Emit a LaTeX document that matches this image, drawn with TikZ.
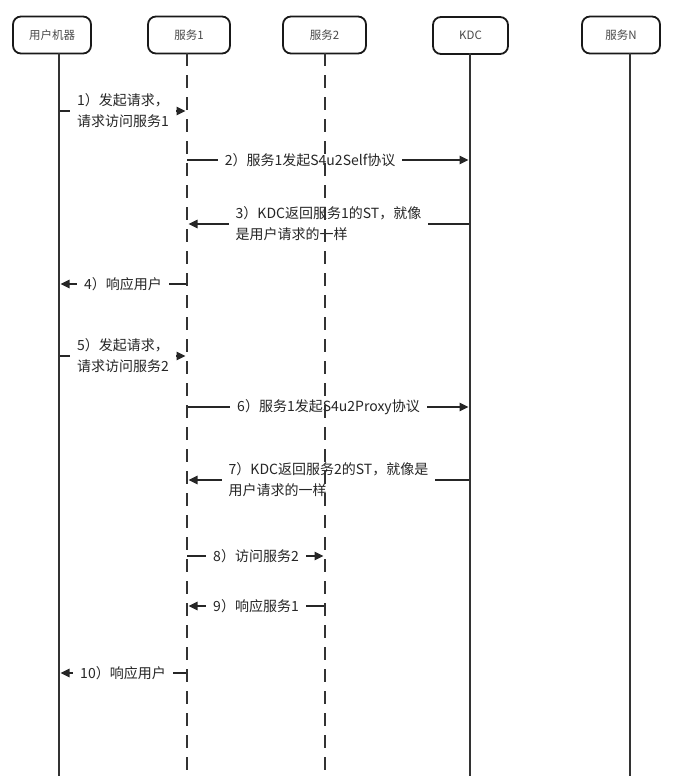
\documentclass[tikz,border=0pt]{standalone}
\usepackage{fontspec}
\setmainfont{Noto Sans CJK SC}
\usepackage{tikz}
\usetikzlibrary{arrows.meta, positioning}
\definecolor{inkgray}{HTML}{262626}
\definecolor{boxtext}{HTML}{4A4A4A}

\begin{document}
\begin{tikzpicture}[
  x=1pt, y=-1pt,
  every node/.style={font=\fontsize{14}{21}\selectfont, text=inkgray},
  actor/.style={rectangle, rounded corners=8pt, draw=black!90, fill=white, line width=1.8pt,
                minimum width=78pt, minimum height=37pt, font=\fontsize{11.5}{13}\selectfont, text=boxtext},
  life/.style={line width=1.8pt, black!80},
  dlife/.style={life, dash pattern=on 13pt off 9pt},
  msg/.style={-{Triangle[length=9pt, width=8.5pt]}, line width=1.5pt, black!85, shorten >=1.5pt},
  lbl/.style={fill=white, align=left, inner xsep=7pt, inner ysep=1pt},
]
\useasboundingbox (0,0) rectangle (690,776);

% Header — participants
\node[actor] (usr) at (52,35) {用户机器};
\node[actor, minimum width=82pt] (srv1) at (189,35) {服务1};
\node[actor, minimum width=83pt] (srv2) at (324.5,35) {服务2};
\node[actor, minimum width=75pt] (kdc) at (470.5,35.5) {KDC};
\node[actor] (srvn) at (621,35) {服务N};

% Lifeline heads
\coordinate (lu) at (59,53);
\coordinate (l1) at (187,53);
\coordinate (l2) at (325,53);
\coordinate (lk) at (470,53);
\coordinate (ln) at (630,53);
\coordinate (bot) at (0,776);

% Message rows
\coordinate (m1) at (0,111);
\coordinate (m2) at (0,160);
\coordinate (m3) at (0,224);
\coordinate (m4) at (0,284);
\coordinate (m5) at (0,356);
\coordinate (m6) at (0,407);
\coordinate (m7) at (0,480);
\coordinate (m8) at (0,556);
\coordinate (m9) at (0,606);
\coordinate (m10) at (0,673);

% Messages
\draw[msg] (lu |- m1) -- node[lbl] {1）发起请求，\\请求访问服务1} (l1 |- m1);
\draw[msg] (l1 |- m2) -- node[lbl, pos=0.435] {2）服务1发起S4u2Self协议} (lk |- m2);
\draw[msg] (lk |- m3) -- node[lbl] {3）KDC返回服务1的ST，就像\\是用户请求的一样} (l1 |- m3);
\draw[msg] (l1 |- m4) -- node[lbl] {4）响应用户} (lu |- m4);
\draw[msg] (lu |- m5) -- node[lbl] {5）发起请求，\\请求访问服务2} (l1 |- m5);
\draw[msg] (l1 |- m6) -- node[lbl] {6）服务1发起S4u2Proxy协议} (lk |- m6);
\draw[msg] (lk |- m7) -- node[lbl] {7）KDC返回服务2的ST，就像是\\用户请求的一样} (l1 |- m7);
\draw[msg] (l1 |- m8) -- node[lbl] {8）访问服务2} (l2 |- m8);
\draw[msg] (l2 |- m9) -- node[lbl] {9）响应服务1} (l1 |- m9);
\draw[msg] (l1 |- m10) -- node[lbl] {10）响应用户} (lu |- m10);

% Lifelines (drawn over the labels)
\draw[life] (lu) -- (lu |- bot);
\draw[dlife] (l1) -- (l1 |- bot);
\draw[dlife] (l2) -- (l2 |- bot);
\draw[life] (lk) -- (lk |- bot);
\draw[life] (ln) -- (ln |- bot);

\end{tikzpicture}
\end{document}
